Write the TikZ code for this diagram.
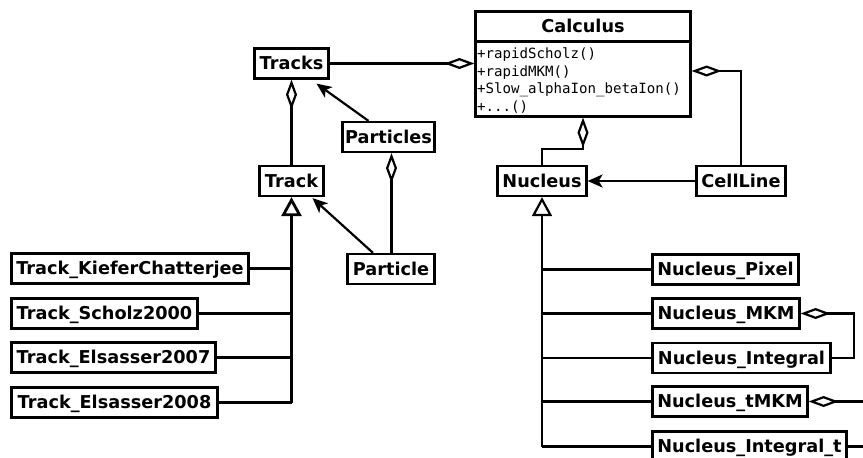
\documentclass[tikz,border=0pt]{standalone}
\usepackage{fontspec}
\setmainfont{DejaVu Sans}
\newfontfamily\monof{DejaVu Sans Mono}
\usetikzlibrary{arrows.meta}
\begin{document}
\begin{tikzpicture}[x=1pt,y=-1pt,
 box/.style={draw,line width=2.2pt,minimum height=30pt,inner sep=0pt,font=\fontsize{17.7}{20}\selectfont\bfseries,text height=12.9pt,text depth=0pt},
 conn/.style={line width=2.2pt},
 agg/.style={{Diamond[open,length=30pt,width=11pt]}-},
 inh/.style={-{Triangle[open,length=19pt,width=20pt]}},
 assoc/.style={-{Stealth[length=15pt,width=13pt,inset=4pt]}},
 meth/.style={anchor=base west,inner sep=0pt,font=\monof\fontsize{14.1}{16}\selectfont}]
\useasboundingbox (0,0) rectangle (863,458);
\clip (0,0) rectangle (863,458);
% classes
\node[box,minimum width=74pt] (tracks) at (291.5,63.5) {Tracks};
\node[draw,line width=2.2pt,minimum width=215pt,minimum height=105pt,inner sep=0pt] (calc) at (583,64) {};
\node[inner sep=0pt,font=\fontsize{17.7}{20}\selectfont\bfseries,text height=12.9pt,text depth=0pt] (calct) at (583,26) {Calculus};
\draw[conn] ([yshift=-31pt]calc.north west) -- ([yshift=-31pt]calc.north east);
\node[meth] (m1) at (477,58) {+rapidScholz()};
\node[meth] (m2) at (477,76) {+rapidMKM()};
\node[meth] (m3) at (477,93) {+Slow\_alphaIon\_betaIon()};
\node[meth] (m4) at (477,111) {+...()};
\node[box,minimum width=92pt] (particles) at (388.5,137) {Particles};
\node[box,minimum width=64pt] (track) at (291.5,181) {Track};
\node[box,minimum width=87pt] (particle) at (391,269) {Particle};
\node[box,minimum width=89pt] (nucleus) at (542,181) {Nucleus};
\node[box,minimum width=89pt] (cellline) at (741,181) {CellLine};
\node[box,minimum width=237pt] (tkc) at (130,268.5) {Track\_KieferChatterjee};
\node[box,minimum width=186pt] (ts) at (104.5,313.5) {Track\_Scholz2000};
\node[box,minimum width=204pt] (te7) at (113.5,357.5) {Track\_Elsasser2007};
\node[box,minimum width=206pt] (te8) at (114.5,402.5) {Track\_Elsasser2008};
\node[box,minimum width=146pt] (np) at (725.5,269.5) {Nucleus\_Pixel};
\node[box,minimum width=147pt] (nmkm) at (726,313.5) {Nucleus\_MKM};
\node[box,minimum width=178pt] (nint) at (741.5,358) {Nucleus\_Integral};
\node[box,minimum width=155pt] (ntmkm) at (730,401.5) {Nucleus\_tMKM};
\node[box,minimum width=194pt] (nit) at (749.5,446.5) {Nucleus\_Integral\_t};
\coordinate (edge) at (880,0);
% connectors
\draw[conn,agg] (tracks.east -| calc.west) -- (tracks.east);
\draw[conn,agg] (tracks.south) -- (track.north);
\draw[conn,assoc] ([xshift=-20pt]particles.north) -- ([xshift=25pt,yshift=-4pt]tracks.south);
\draw[conn,agg] ([xshift=3pt]particles.south) -- ([xshift=3pt]particles.south |- particle.north);
\draw[conn,assoc] ([xshift=-18pt]particle.north) -- ([xshift=21pt,yshift=-1pt]track.south);
\draw[conn,agg] (calc.south) -- ++(0,31) -| (nucleus.north);
\draw[conn,agg] ([yshift=-7pt]calc.east) -| (cellline.north);
\draw[conn,assoc] (cellline.west) -- (nucleus.east);
% Track inheritance
\draw[conn,inh,line width=2.8pt] (track.south |- te8.east) -- (track.south);
\foreach \n in {tkc,ts,te7,te8} \draw[conn] (\n.east) -- (\n.east -| track.south);
% Nucleus inheritance
\draw[conn,inh] (nucleus.south |- nit.west) -- (nucleus.south);
\foreach \n in {np,nmkm,nint,ntmkm,nit} \draw[conn] (nucleus.south |- \n.west) -- (\n.west);
\draw[conn,agg] (nmkm.east) -- ++(53,0) |- (nint.east);
\draw[conn,agg] (ntmkm.east) -- (ntmkm.east -| edge);
\draw[conn] (nit.east) -- (nit.east -| edge);
\end{tikzpicture}
\end{document}
